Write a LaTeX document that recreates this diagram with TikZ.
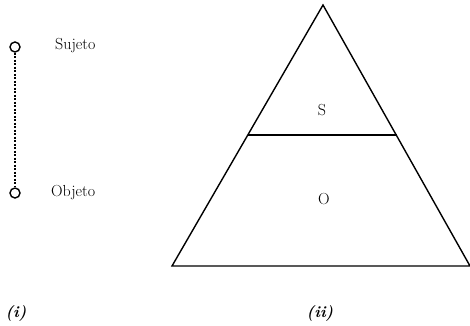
\documentclass[tikz,border=0pt]{standalone}
\usepackage{fontspec}
\begin{document}
\begin{tikzpicture}[x=1pt,y=-1pt,
  lbl/.style={font=\fontsize{16}{19}\selectfont, inner sep=0pt},
  lbli/.style={font=\fontsize{16}{19}\selectfont\bfseries\itshape, inner sep=0pt},
  dot/.style={circle, draw, line width=1.4pt, minimum size=10pt, inner sep=0pt},
  edge/.style={line width=1.4pt}]
\useasboundingbox (0,0) rectangle (470,325);
\node[dot] (s) at (15,47) {};
\node[dot] (o) at (15,193) {};
\draw[line width=1.3pt, dash pattern=on 2.2pt off 1.3pt] (s) -- (o);
\node[lbl, anchor=west] (sl) at (55,46) {Sujeto};
\node[lbl, anchor=west] (ol) at (51,193) {Objeto};
\coordinate (A) at (323,5);
\coordinate (B) at (172,266);
\coordinate (C) at (470,266);
\coordinate (L) at (248,135);
\coordinate (R) at (397,135);
\draw[edge, line join=miter] (A) -- (B) -- (C) -- cycle;
\draw[edge] (L) -- (R);
\node[lbl] (S) at (322,110) {S};
\node[lbl] (O) at (324,199) {O};
\node[lbli] (i) at (16,313) {(i)};
\node[lbli] (ii) at (320,313) {(ii)};
\end{tikzpicture}
\end{document}
